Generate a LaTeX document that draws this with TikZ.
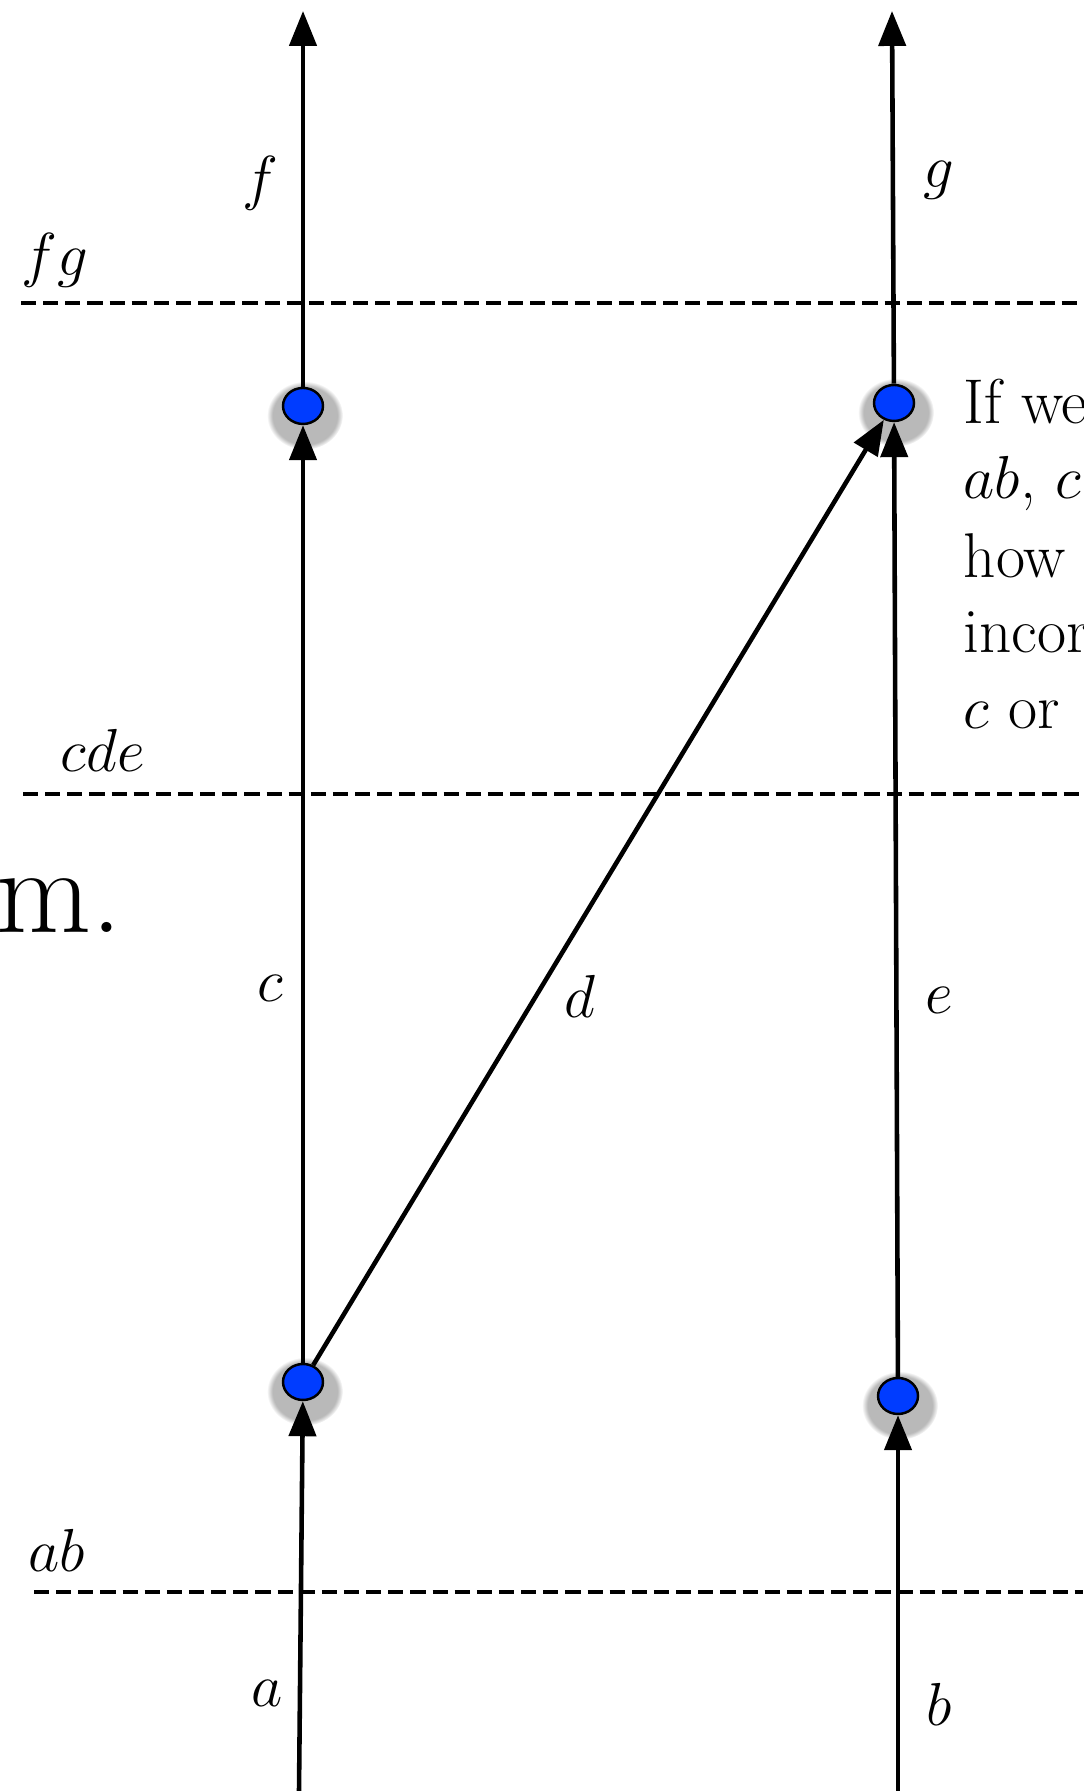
\documentclass[tikz,border=0pt]{standalone}
\usetikzlibrary{arrows.meta,shapes.geometric,shadows}

\definecolor{dotblue}{RGB}{0,60,255}

\tikzset{
  event/.style={ellipse, draw=black, line width=0.7pt, fill=dotblue,
    minimum width=0.40cm, minimum height=0.36cm, inner sep=0pt,
    circular drop shadow={shadow xshift=0.01cm, shadow yshift=-0.05cm,
      shadow scale=1.9, opacity=0.55}},
  world/.style={line width=1.3pt, -{Triangle[length=3.5mm,width=2.7mm]}},
  cut/.style={dash pattern=on 4.3pt off 2pt, line width=0.9pt},
  lbl/.style={font=\fontsize{18}{22}\selectfont, inner sep=0pt},
}

\begin{document}
\begin{tikzpicture}[scale=1]

\useasboundingbox
(0,0)
rectangle
(10.83,17.91);

% Coupes
\draw[cut]
(0.21,14.88)
--
(10.83,14.88);

\draw[cut]
(0.23,9.97)
--
(10.83,9.97);

\draw[cut]
(0.34,1.99)
--
(10.83,1.99);

\node[lbl] (cfg) at (0.55,15.31) {$fg$};
\node[lbl] (ccde) at (1.03,10.41) {$cde$};
\node[lbl] (cab) at (0.57,2.41) {$ab$};

% Evenements
\node[event] (pa) at (3.03,4.09) {};
\node[event] (pb) at (8.98,3.95) {};
\node[event] (pf) at (3.03,13.85) {};
\node[event] (pg) at (8.94,13.88) {};

% Bouts libres
\coordinate (a0) at (2.99,0);
\coordinate (b0) at (8.98,0);
\coordinate (ftop) at (3.03,17.80);
\coordinate (gtop) at (8.92,17.80);

% Lignes
\draw[world]
(a0)
--
(pa);

\draw[world]
(b0)
--
(pb);

\draw[world]
(pa)
--
(pf);

\draw[world]
(pa)
--
(pg);

\draw[world]
(pb)
--
(pg);

\draw[world]
(pf)
--
(ftop);

\draw[world]
(pg)
--
(gtop);

% Noms
\node[lbl] (la) at (2.67,0.98) {$a$};
\node[lbl] (lb) at (9.39,0.87) {$b$};
\node[lbl] (lc) at (2.70,8.03) {$c$};
\node[lbl] (ld) at (5.80,7.95) {$d$};
\node[lbl] (le) at (9.39,7.91) {$e$};
\node[lbl] (lf) at (2.60,16.08) {$f$};
\node[lbl] (lg) at (9.39,16.11) {$g$};

% Texte
\node[lbl, anchor=base west] (t1) at (9.63,13.67) {If we};
\node[lbl, anchor=base west] (t2) at (9.63,12.92) {$ab$, $c$};
\node[lbl, anchor=base west] (t3) at (9.63,12.13) {how};
\node[lbl, anchor=base west] (t4) at (9.63,11.38) {incor};
\node[lbl, anchor=base west] (t5) at (9.63,10.62) {$c$ or};

\node[font=\fontsize{35}{42}\selectfont, inner sep=0pt, anchor=base east]
(tm) at (1.23,8.58) {m.};

\end{tikzpicture}
\end{document}
